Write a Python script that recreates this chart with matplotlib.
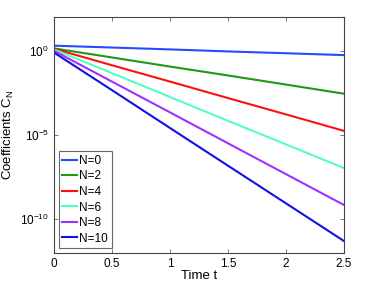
import numpy as np
import matplotlib
matplotlib.use("Agg")
import matplotlib.pyplot as plt

plt.rcParams['font.family'] = ['Liberation Sans', 'DejaVu Sans']

t = [0, 0.5, 1.0, 1.5, 2.0, 2.5]

c_n0 = [2.0, 1.55, 1.2, 0.91, 0.71, 0.55]
c_n2 = [1.38, 0.40, 0.115, 0.034, 9.8e-3, 2.8e-3]
c_n4 = [1.32, 0.138, 1.48e-2, 1.55e-3, 1.66e-4, 1.74e-5]
c_n6 = [1.2, 4.7e-2, 1.8e-3, 6.9e-5, 2.75e-6, 1.07e-7]
c_n8 = [1.0, 1.48e-2, 2.2e-4, 3.2e-6, 4.7e-8, 6.9e-10]
c_n10 = [0.79, 4.6e-3, 2.6e-5, 1.5e-7, 8.7e-10, 5.0e-12]

labels = ['N=0', 'N=2', 'N=4', 'N=6', 'N=8', 'N=10']
colors = ['#2a48ff', '#1f9a12', '#ff1010', '#55ffbb', '#a030ff', '#1010e8']

fig = plt.figure(figsize=(3.74, 2.89), dpi=100)
ax = fig.add_axes([0.144, 0.125, 0.776, 0.816])

for y, lab, col in zip([c_n0, c_n2, c_n4, c_n6, c_n8, c_n10], labels, colors):
    ax.semilogy(t, y, color=col, linewidth=1.5, label=lab)

ax.set_xlim(0, 2.5)
ax.set_ylim(1e-12, 1e2)
ax.set_xticks([0, 0.5, 1, 1.5, 2, 2.5])
ax.set_xticklabels(['0', '0.5', '1', '1.5', '2', '2.5'])
ax.set_yticks([1e0, 1e-5, 1e-10])
ax.yaxis.set_minor_locator(matplotlib.ticker.NullLocator())
ax.tick_params(direction='in', top=True, right=True, labelsize=8.5, length=3, width=0.5, color='#444444')
for s in ax.spines.values():
    s.set_color('#444444')
    s.set_linewidth(0.8)

ax.set_xlabel('Time t', fontsize=9.5, labelpad=0)
ax.set_ylabel('Coefficients C$_\\mathregular{N}$', fontsize=9.5, labelpad=3)

leg = ax.legend(loc='lower left', fontsize=8.5, frameon=True, fancybox=False,
                handlelength=1.3, handletextpad=0.15, labelspacing=0.3,
                borderpad=0.3, borderaxespad=0.4)
leg.get_frame().set_edgecolor('#444444')
leg.get_frame().set_linewidth(0.8)

fig.savefig('out.png', dpi=100)
